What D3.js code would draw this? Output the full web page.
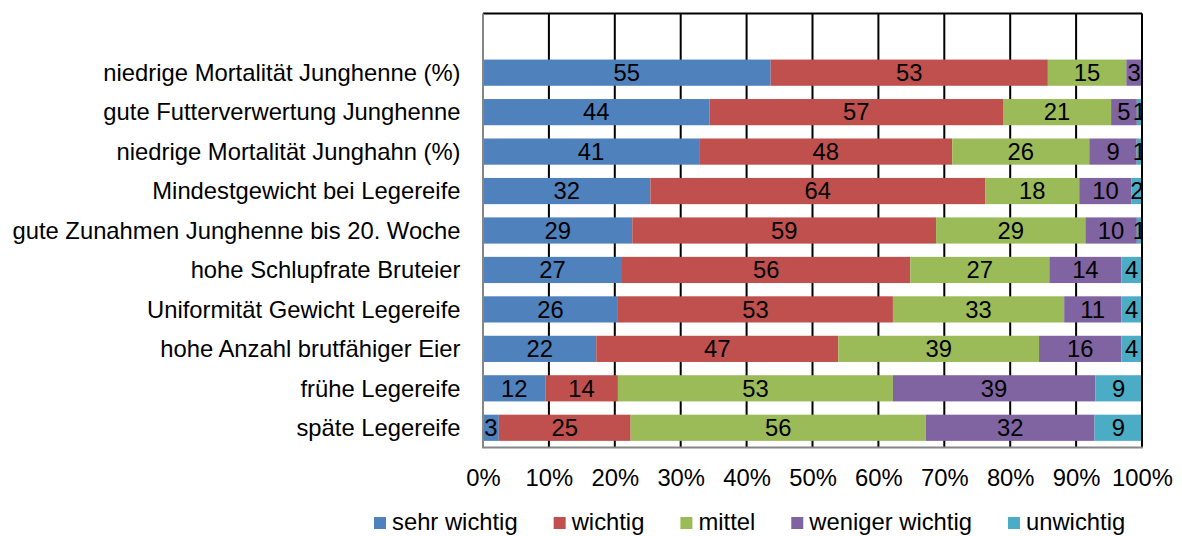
<!DOCTYPE html>
<html>
<head>
<meta charset="utf-8">
<script src="https://cdn.jsdelivr.net/npm/d3@7"></script>
<style>
  html, body { margin: 0; padding: 0; background: #fff; }
  svg text { font-family: "Liberation Sans", Arial, sans-serif; fill: #000; }
</style>
</head>
<body>
<svg id="chart" width="1182" height="536"></svg>
<script>
// Rating of breeding traits (number of answers per importance level)
const categories = [
  "niedrige Mortalität Junghenne (%)",
  "gute Futterverwertung Junghenne",
  "niedrige Mortalität Junghahn (%)",
  "Mindestgewicht bei Legereife",
  "gute Zunahmen Junghenne bis 20. Woche",
  "hohe Schlupfrate Bruteier",
  "Uniformität Gewicht Legereife",
  "hohe Anzahl brutfähiger Eier",
  "frühe Legereife",
  "späte Legereife"
];
const sehrWichtig    = [55, 44, 41, 32, 29, 27, 26, 22, 12, 3];
const wichtig        = [53, 57, 48, 64, 59, 56, 53, 47, 14, 25];
const mittel         = [15, 21, 26, 18, 29, 27, 33, 39, 53, 56];
const wenigerWichtig = [3, 5, 9, 10, 10, 14, 11, 16, 39, 32];
const unwichtig      = [0, 1, 1, 2, 1, 4, 4, 4, 9, 9];
const seriesNames  = ["sehr wichtig", "wichtig", "mittel", "weniger wichtig", "unwichtig"];
const seriesColors = ["#4F81BD", "#C0504D", "#9BBB59", "#8064A2", "#4BACC6"];
const xTicks = [0, 0.1, 0.2, 0.3, 0.4, 0.5, 0.6, 0.7, 0.8, 0.9, 1.0];

const seriesValues = [sehrWichtig, wichtig, mittel, wenigerWichtig, unwichtig];
const rows = categories.map((c, i) => {
  const r = { category: c };
  seriesNames.forEach((s, k) => { r[s] = seriesValues[k][i]; });
  return r;
});

const FONT = 23.8;
const plot = { left: 483, right: 1142, top: 13.5, bottom: 447.5 };

const svg = d3.select("#chart");
svg.append("rect").attr("width", 1182).attr("height", 536).attr("fill", "#fff");

const x = d3.scaleLinear().domain([0, 1]).range([plot.left, plot.right]);
// one empty slot above the first category
const y = d3.scaleBand()
  .domain([" "].concat(categories))
  .range([plot.top, plot.bottom])
  .paddingInner(0.336)
  .paddingOuter(0.168);

const stack = d3.stack().keys(seriesNames).offset(d3.stackOffsetExpand);
const stacked = stack(rows);

// vertical gridlines
svg.append("g")
  .selectAll("line")
  .data(xTicks.slice(1, -1))
  .join("line")
  .attr("x1", d => x(d)).attr("x2", d => x(d))
  .attr("y1", plot.top).attr("y2", plot.bottom)
  .attr("stroke", "#000").attr("stroke-width", 2);

// bars
const layers = svg.append("g")
  .selectAll("g")
  .data(stacked)
  .join("g")
  .attr("fill", (d, i) => seriesColors[i]);

layers.selectAll("rect")
  .data(d => d)
  .join("rect")
  .attr("x", d => x(d[0]))
  .attr("width", d => x(d[1]) - x(d[0]))
  .attr("y", d => y(d.data.category))
  .attr("height", y.bandwidth());

// value labels, clipped to the plot area
svg.append("clipPath").attr("id", "plotClip")
  .append("rect")
  .attr("x", plot.left).attr("y", plot.top)
  .attr("width", plot.right - plot.left).attr("height", plot.bottom - plot.top);

const labelG = svg.append("g").attr("clip-path", "url(#plotClip)");
stacked.forEach((layer, k) => {
  labelG.append("g")
    .selectAll("text")
    .data(layer.filter(d => d.data[seriesNames[k]] > 0))
    .join("text")
    .attr("x", d => (x(d[0]) + x(d[1])) / 2)
    .attr("y", d => y(d.data.category) + y.bandwidth() / 2)
    .attr("dy", "0.35em")
    .attr("text-anchor", "middle")
    .style("font-size", FONT + "px")
    .text(d => d.data[seriesNames[k]]);
});

// frame: top and right in black
svg.append("line")
  .attr("x1", plot.left).attr("x2", plot.right)
  .attr("y1", plot.top).attr("y2", plot.top)
  .attr("stroke", "#000").attr("stroke-width", 2);
svg.append("line")
  .attr("x1", plot.right).attr("x2", plot.right)
  .attr("y1", plot.top).attr("y2", plot.bottom)
  .attr("stroke", "#000").attr("stroke-width", 2);

// category axis
const yAxis = svg.append("g")
  .attr("transform", `translate(${plot.left},0)`)
  .call(d3.axisLeft(y).tickSize(0).tickPadding(22.5));
yAxis.select(".domain").attr("stroke", "#868686").attr("stroke-width", 2)
  .attr("d", `M0,${plot.top}V${plot.bottom}`);
yAxis.selectAll("text")
  .style("font-size", FONT + "px")
  .attr("dy", "0.35em");

// percentage axis
const xAxis = svg.append("g")
  .attr("transform", `translate(0,${plot.bottom})`)
  .call(d3.axisBottom(x).tickValues(xTicks).tickFormat(d3.format(".0%")).tickSize(0).tickPadding(21.5));
xAxis.select(".domain").attr("stroke", "#868686").attr("stroke-width", 2)
  .attr("d", `M${plot.left - 1},0H${plot.right + 1}`);
xAxis.selectAll("text")
  .style("font-size", FONT + "px");
svg.selectAll(".tick line").remove();
svg.selectAll("g[font-family]").attr("font-family", null).attr("font-size", null);

// legend
const legend = svg.append("g").attr("transform", "translate(374,0)");
let lx = 0;
seriesNames.forEach((name, i) => {
  const item = legend.append("g").attr("transform", `translate(${lx},0)`);
  item.append("rect")
    .attr("x", 0).attr("y", 517)
    .attr("width", 12).attr("height", 12)
    .attr("fill", seriesColors[i]);
  const t = item.append("text")
    .attr("x", 18).attr("y", 529.5)
    .style("font-size", FONT + "px")
    .text(name);
  lx += 18 + t.node().getComputedTextLength() + 36;
});
</script>
</body>
</html>
